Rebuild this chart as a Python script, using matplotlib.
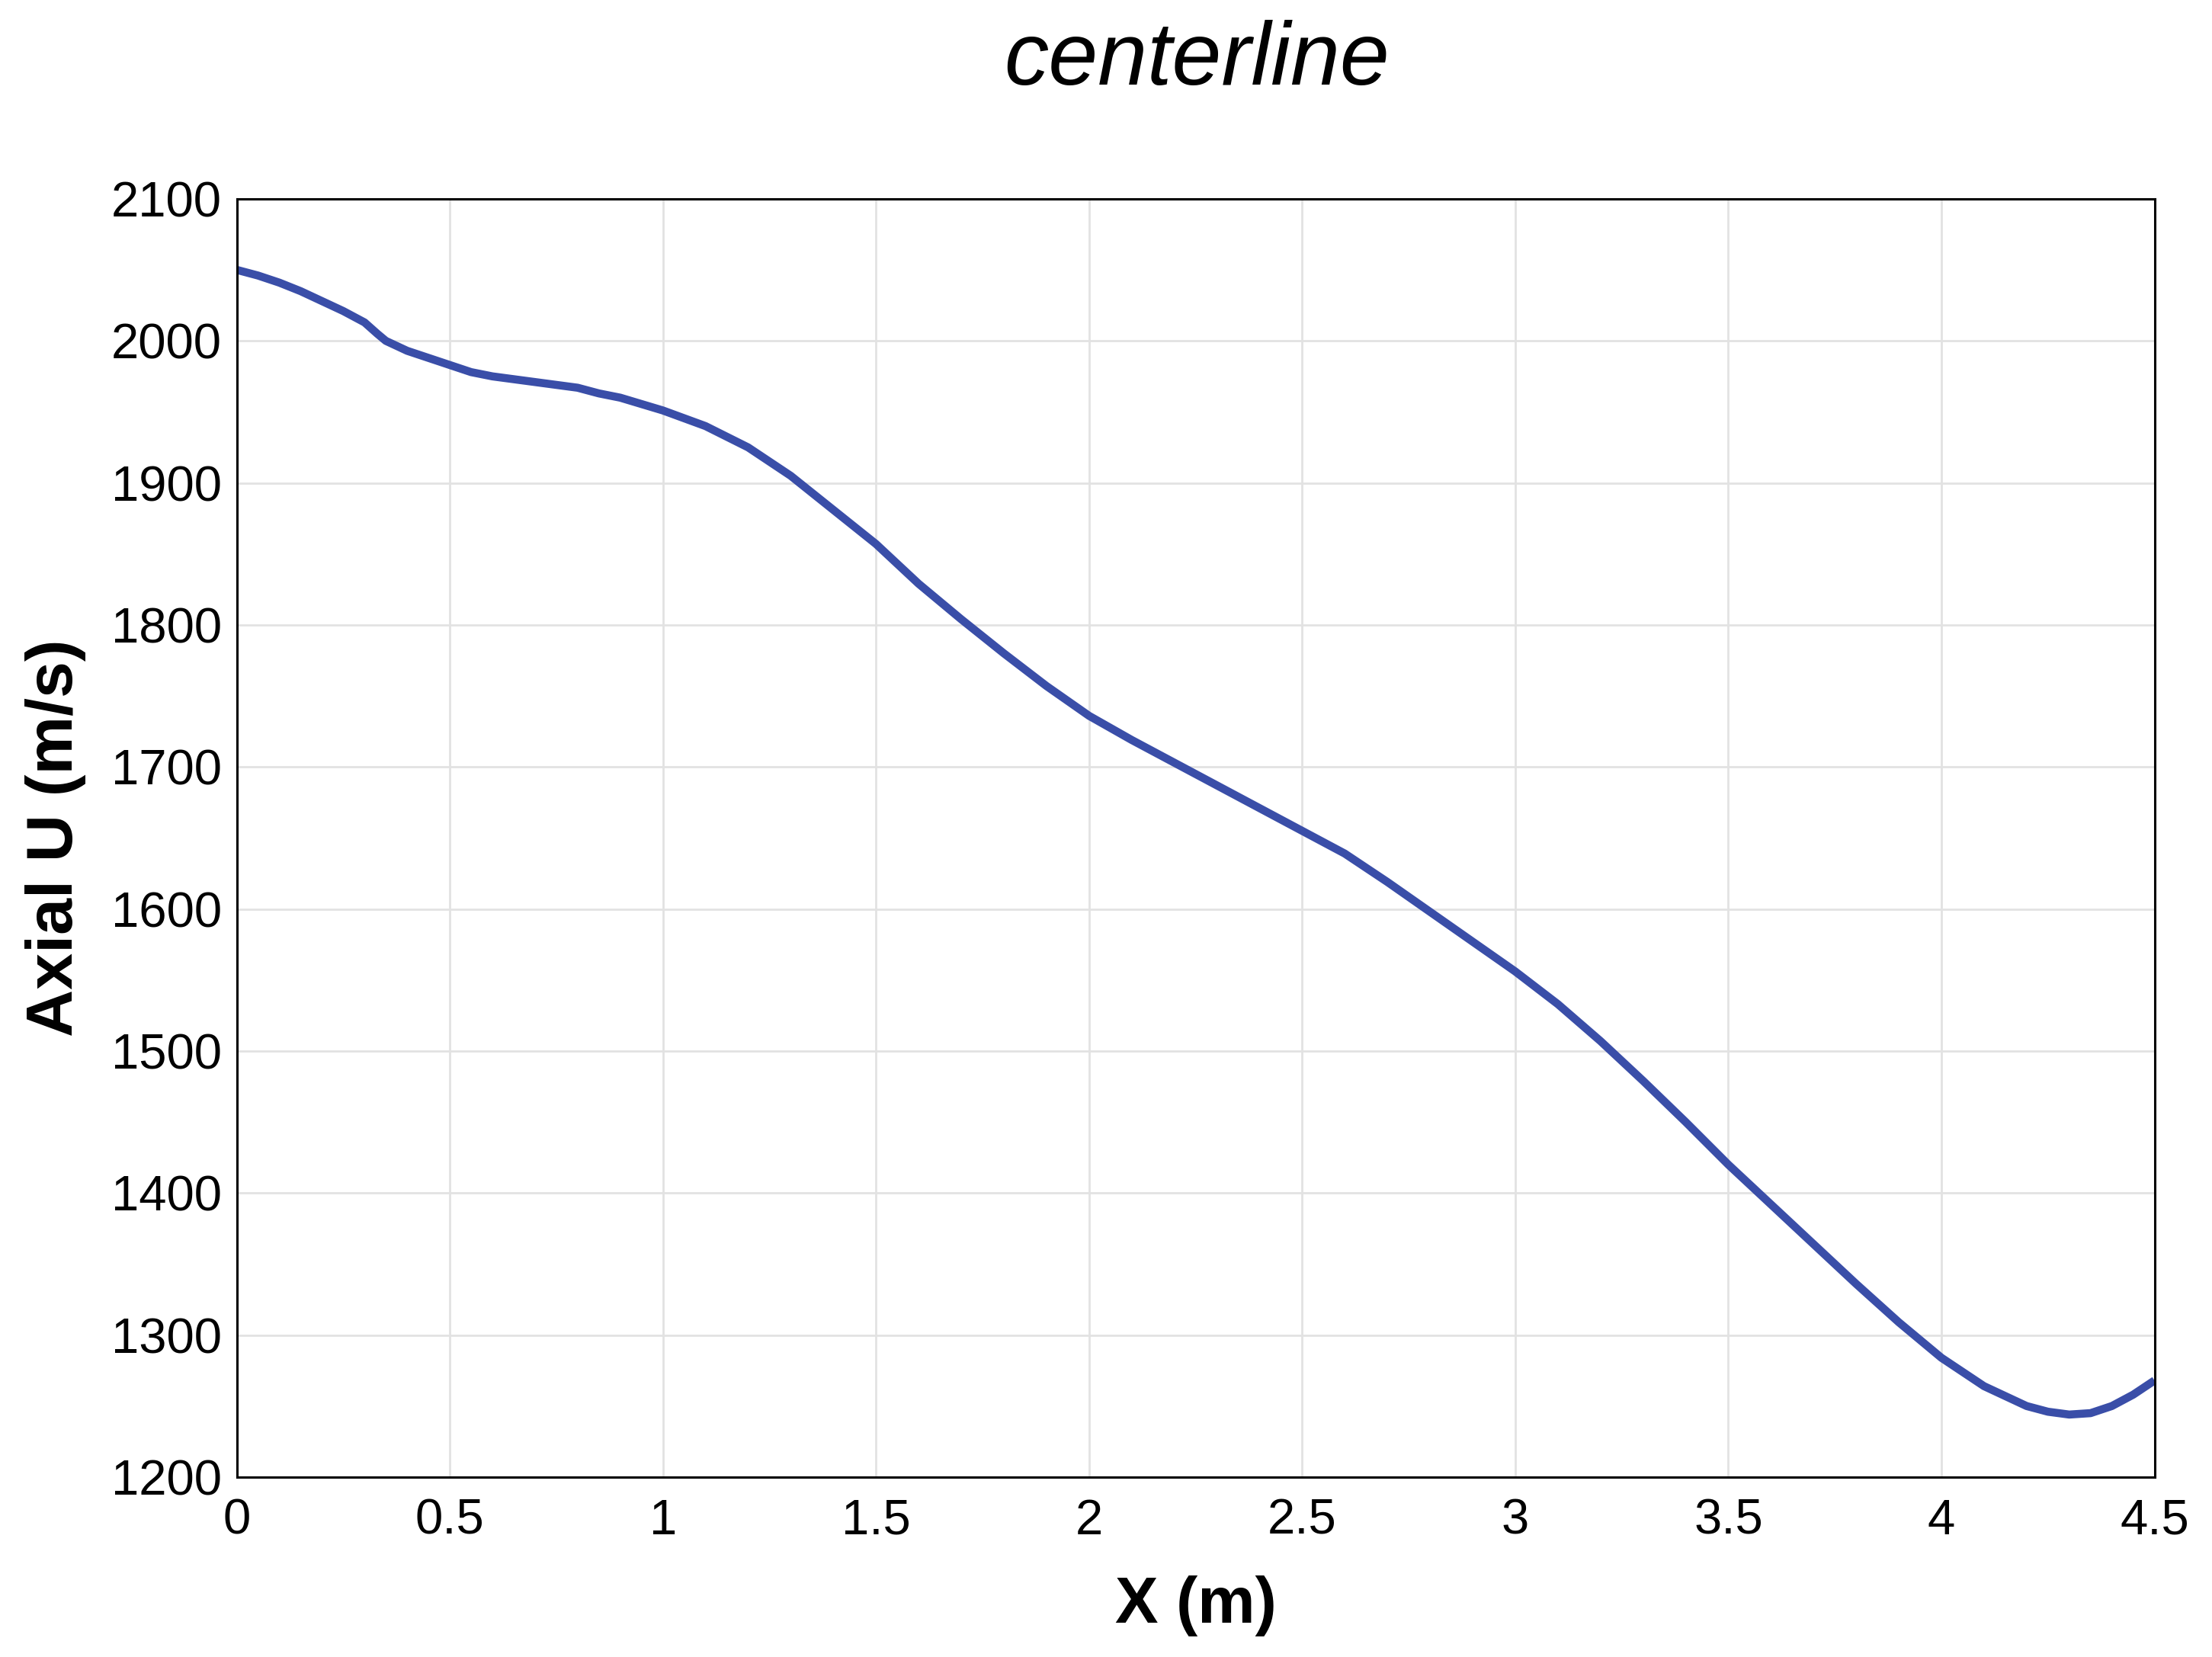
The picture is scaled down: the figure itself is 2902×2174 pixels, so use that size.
import matplotlib.pyplot as plt

# Centerline axial velocity
x_m = [0.0, 0.05, 0.1, 0.15, 0.2, 0.25, 0.3, 0.33, 0.35, 0.4, 0.45, 0.5, 0.55, 0.6, 0.7, 0.8, 0.85, 0.9,
       1.0, 1.1, 1.2, 1.3, 1.4, 1.5, 1.6, 1.7, 1.8, 1.9, 2.0, 2.1, 2.2, 2.3, 2.4,
       2.5, 2.6, 2.7, 2.8, 2.9, 3.0, 3.1, 3.2, 3.3, 3.4, 3.5, 3.6, 3.7, 3.8, 3.9,
       4.0, 4.1, 4.2, 4.25, 4.3, 4.35, 4.4, 4.45, 4.5]
axial_u = [2050, 2046, 2041, 2035, 2028, 2021, 2013, 2005, 2000, 1993, 1988, 1983, 1978, 1975, 1971, 1967, 1963, 1960,
           1951, 1940, 1925, 1905, 1881, 1857, 1829, 1804, 1780, 1757, 1736, 1719, 1703, 1687, 1671,
           1655, 1639, 1619, 1598, 1577, 1556, 1533, 1507, 1479, 1450, 1420, 1392, 1364, 1336, 1309,
           1284, 1264, 1250, 1246, 1244, 1245, 1250, 1258, 1268]

x_ticks = [0, 0.5, 1, 1.5, 2, 2.5, 3, 3.5, 4, 4.5]
x_tick_labels = ['0', '0.5', '1', '1.5', '2', '2.5', '3', '3.5', '4', '4.5']
y_ticks = list(range(1200, 2101, 100))

plt.rcParams['font.family'] = ['Liberation Sans', 'DejaVu Sans']

fig = plt.figure(figsize=(14.51, 10.87), dpi=200)
ax = fig.add_axes([0.107, 0.1086, 0.867, 0.7714])

ax.plot(x_m, axial_u, color='#3a4ea8', linewidth=3.8, solid_capstyle='butt')

ax.set_xlim(0, 4.5)
ax.set_ylim(1200, 2100)
ax.set_xticks(x_ticks)
ax.set_xticklabels(x_tick_labels)
ax.set_yticks(y_ticks)
ax.tick_params(axis='both', length=0, labelsize=23.5)
ax.tick_params(axis='x', pad=10)
ax.tick_params(axis='y', pad=7)
ax.grid(True, color='#e2e2e2', linewidth=1.0)
ax.set_axisbelow(True)
for sp in ax.spines.values():
    sp.set_linewidth(1.1)
    sp.set_color('black')

ax.set_xlabel('X (m)', fontsize=30.5, fontweight='bold', labelpad=15)
ax.set_ylabel('Axial U (m/s)', fontsize=31, fontweight='bold', labelpad=12)
fig.text(0.541, 0.963, 'centerline', fontsize=42, style='italic', ha='center', va='center')

fig.savefig('out.png', dpi=200)
